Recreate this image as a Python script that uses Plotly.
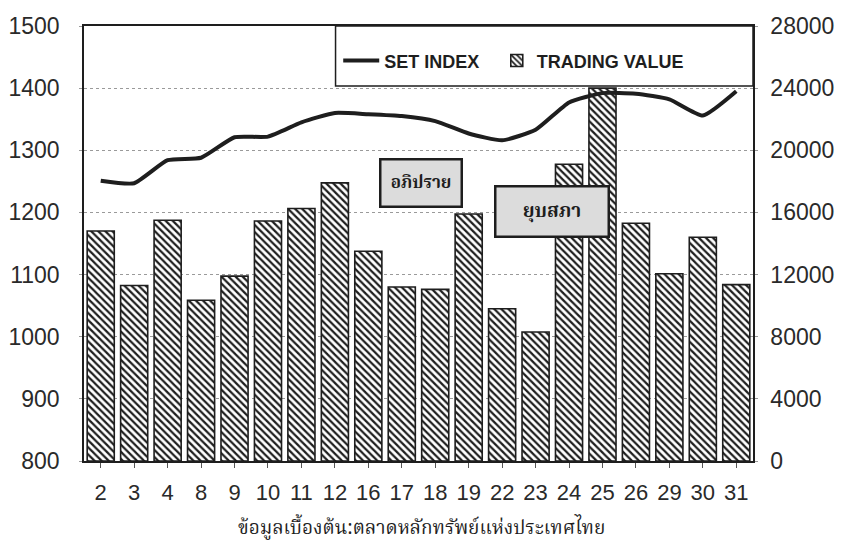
import plotly.graph_objects as go

days = ["2", "3", "4", "8", "9", "10", "11", "12", "16", "17",
        "18", "19", "22", "23", "24", "25", "26", "29", "30", "31"]
set_index = [1251, 1247, 1284, 1288, 1321, 1322, 1345, 1360, 1358, 1355,
             1347, 1327, 1316, 1333, 1377, 1392, 1391, 1382, 1356, 1395]
trading_value = [14800, 11300, 15500, 10350, 11900, 15450, 16250, 17900, 13500, 11200,
                 11050, 15900, 9800, 8300, 19100, 24000, 15300, 12050, 14400, 11350]
left_ticks = [800, 900, 1000, 1100, 1200, 1300, 1400, 1500]
right_ticks = [0, 4000, 8000, 12000, 16000, 20000, 24000, 28000]

ink = "#1e1e1e"
ytick_font = dict(family="Liberation Sans, Arial, sans-serif", size=23, color="#2a2a2a")
xtick_font = dict(family="Liberation Sans Narrow, Arial Narrow, Liberation Sans, sans-serif",
                  size=22, color="#2a2a2a")
thai_font = "Noto Serif Thai, Noto Sans Thai, Loma, Garuda, Tlwg Typo, Noto Sans, sans-serif"
legend_font = dict(family="Liberation Sans, Arial, sans-serif", size=18, color=ink, weight="bold")

fig = go.Figure()
fig.add_trace(go.Scatter(
    x=days, y=set_index, name="SET INDEX", yaxis="y2", mode="lines", legend="legend",
    line=dict(color=ink, width=4, shape="spline", smoothing=0.5),
))
fig.add_trace(go.Bar(
    x=days, y=trading_value, name="TRADING VALUE", yaxis="y", legend="legend2",
    marker=dict(color="white", line=dict(color=ink, width=1.6),
                pattern=dict(shape="\\", fgcolor=ink, bgcolor="white",
                             size=5, solidity=0.45, fillmode="replace")),
))

fig.update_layout(
    width=842, height=557,
    margin=dict(l=84, r=89, t=26, b=96, autoexpand=False),
    paper_bgcolor="white", plot_bgcolor="white",
    bargap=0.19,
    showlegend=True,
    legend=dict(orientation="h", x=0.380, y=0.92, xanchor="left", yanchor="middle",
                bgcolor="rgba(255,255,255,0)", borderwidth=0, font=legend_font, itemwidth=36),
    legend2=dict(orientation="h", x=0.617, y=0.92, xanchor="left", yanchor="middle",
                 bgcolor="rgba(255,255,255,0)", borderwidth=0, font=legend_font, itemwidth=30),
    xaxis=dict(type="category", showline=True, linecolor=ink, linewidth=1.5, mirror=True,
               ticks="outside", ticklen=5, tickcolor="#555", tickfont=xtick_font,
               ticklabelstandoff=6, showgrid=False, automargin=False),
    yaxis=dict(side="right", range=[0, 28000], tickvals=right_ticks,
               ticktext=[str(v) for v in right_ticks],
               showline=True, linecolor=ink, linewidth=1.5,
               ticks="outside", ticklen=3, tickcolor="#999", tickfont=ytick_font,
               ticklabelstandoff=8, automargin=False,
               showgrid=True, gridcolor="#9a9a9a", griddash="dot", gridwidth=1,
               zeroline=False),
    yaxis2=dict(overlaying="y", side="left", range=[800, 1500], tickvals=left_ticks,
                showline=True, linecolor=ink, linewidth=1.5,
                ticks="outside", ticklen=3, tickcolor="#999", tickfont=ytick_font,
                ticklabelstandoff=15, showgrid=False, zeroline=False, automargin=False),
    shapes=[dict(type="rect", xref="paper", yref="paper", x0=0.376, x1=1.0, y0=0.862, y1=1.0,
                 line=dict(color=ink, width=1.5), fillcolor="rgba(0,0,0,0)", layer="above")],
    annotations=[
        dict(text="<b>อภิปราย</b>", xref="paper", yref="paper", x=0.503, y=0.638,
             xanchor="center", yanchor="middle",
             showarrow=False, font=dict(family=thai_font, size=17, color=ink),
             width=75, height=41, bgcolor="#dcdcdc", bordercolor=ink, borderwidth=2.5, borderpad=2),
        dict(text="<b>ยุบสภา</b>", xref="paper", yref="paper", x=0.70, y=0.574,
             xanchor="center", yanchor="middle",
             showarrow=False, font=dict(family=thai_font, size=19, color=ink),
             width=107, height=44, bgcolor="#dcdcdc", bordercolor=ink, borderwidth=2.5, borderpad=2),
        dict(text="ข้อมูลเบื้องต้น:ตลาดหลักทรัพย์แห่งประเทศไทย", xref="paper", yref="paper",
             x=0.505, y=-0.155, xanchor="center", yanchor="middle", showarrow=False,
             font=dict(family=thai_font, size=19, color=ink)),
    ],
)

fig.write_html("out.html", config={"displayModeBar": False},
               post_script="document.body.style.margin='0';document.body.style.padding='0';")
